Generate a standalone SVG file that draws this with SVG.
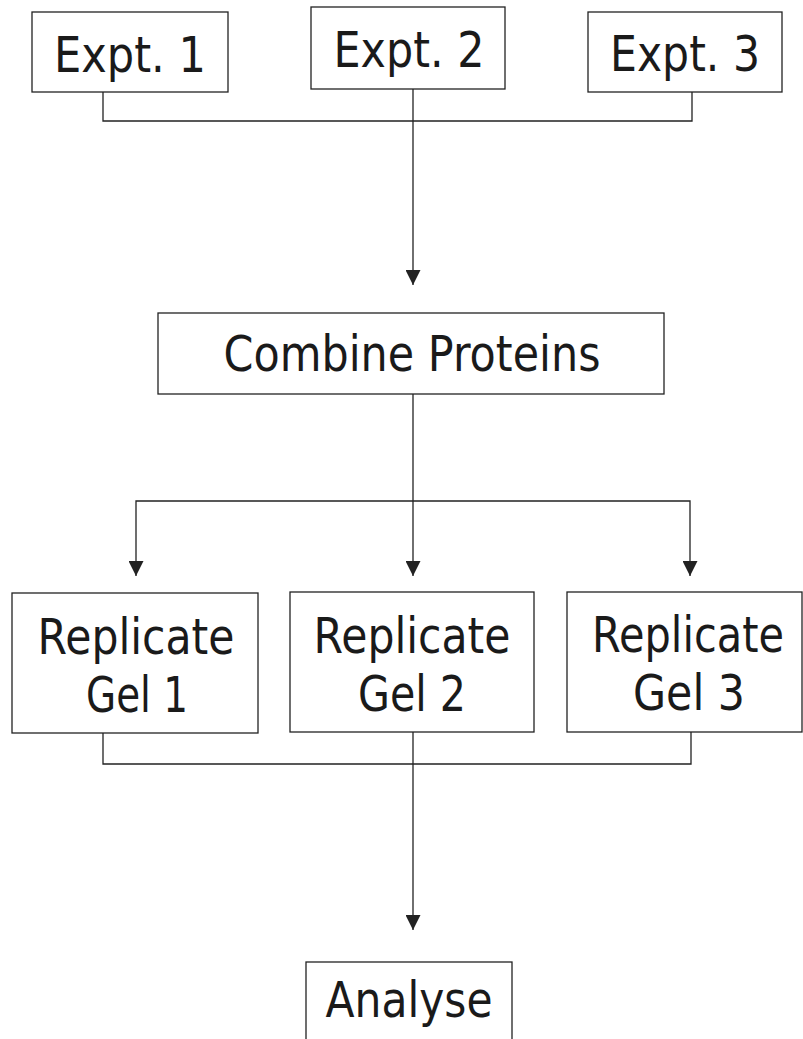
<svg xmlns="http://www.w3.org/2000/svg" width="803" height="1039" viewBox="0 0 803 1039">
<style>
.box{fill:#fff;stroke:#222;stroke-width:1.3}
.lbl{font-family:"DejaVu Sans","Liberation Sans",sans-serif;font-size:49px;fill:#1a1a1a;text-anchor:middle}
.wire{fill:none;stroke:#222;stroke-width:1.3}
</style>
<defs>
<marker id="ah" markerUnits="userSpaceOnUse" markerWidth="15" markerHeight="15" refX="14" refY="7" orient="auto" viewBox="0 0 14 14">
<path d="M0,0 L14,7 L0,14 z" fill="#222"/>
</marker>
</defs>
<rect width="803" height="1039" fill="#fff"/>
<g id="connectors">
<path class="wire" d="M103,92 V121 H692 V92"/>
<path class="wire" d="M413,89 V285" marker-end="url(#ah)"/>
<path class="wire" d="M413,394 V576" marker-end="url(#ah)"/>
<path class="wire" d="M413,501 H136 V576" marker-end="url(#ah)"/>
<path class="wire" d="M413,501 H690 V576" marker-end="url(#ah)"/>
<path class="wire" d="M103,733 V764 H691 V732"/>
<path class="wire" d="M413,732 V930" marker-end="url(#ah)"/>
</g>
<g id="expt1">
<rect class="box" x="32" y="12" width="196" height="80"/>
<text class="lbl" x="130" y="72" textLength="152" lengthAdjust="spacingAndGlyphs">Expt. 1</text>
</g>
<g id="expt2">
<rect class="box" x="311" y="7" width="194" height="82"/>
<text class="lbl" x="409" y="67" textLength="151" lengthAdjust="spacingAndGlyphs">Expt. 2</text>
</g>
<g id="expt3">
<rect class="box" x="588" y="12" width="194" height="80"/>
<text class="lbl" x="685" y="71" textLength="150" lengthAdjust="spacingAndGlyphs">Expt. 3</text>
</g>
<g id="combine">
<rect class="box" x="158" y="313" width="506" height="81"/>
<text class="lbl" x="412" y="371" textLength="377" lengthAdjust="spacingAndGlyphs">Combine Proteins</text>
</g>
<g id="gel1">
<rect class="box" x="12" y="593" width="246" height="140"/>
<text class="lbl" x="136" y="654" textLength="197" lengthAdjust="spacingAndGlyphs">Replicate</text>
<text class="lbl" x="137" y="712" textLength="102" lengthAdjust="spacingAndGlyphs">Gel 1</text>
</g>
<g id="gel2">
<rect class="box" x="290" y="592" width="244" height="140"/>
<text class="lbl" x="412" y="653" textLength="197" lengthAdjust="spacingAndGlyphs">Replicate</text>
<text class="lbl" x="412" y="711" textLength="108" lengthAdjust="spacingAndGlyphs">Gel 2</text>
</g>
<g id="gel3">
<rect class="box" x="567" y="592" width="235" height="140"/>
<text class="lbl" x="688" y="652" textLength="192" lengthAdjust="spacingAndGlyphs">Replicate</text>
<text class="lbl" x="689" y="710" textLength="112" lengthAdjust="spacingAndGlyphs">Gel 3</text>
</g>
<g id="analyse">
<rect class="box" x="306" y="962" width="206" height="100"/>
<text class="lbl" x="409" y="1017" textLength="167" lengthAdjust="spacingAndGlyphs">Analyse</text>
</g>
</svg>
